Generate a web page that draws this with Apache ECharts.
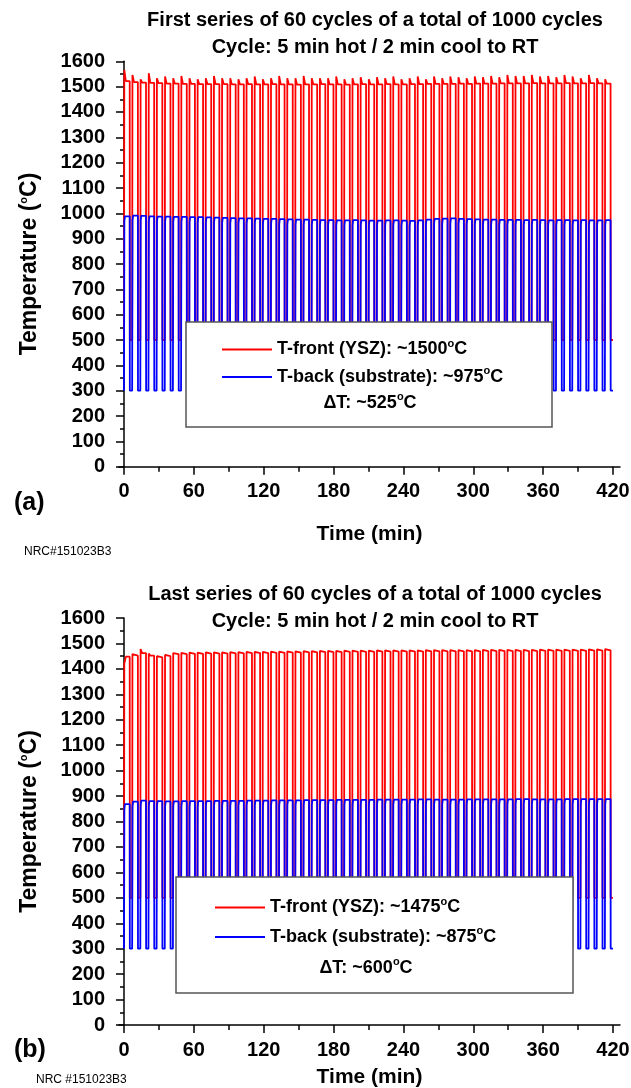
<!DOCTYPE html>
<html>
<head>
<meta charset="utf-8">
<script src="https://cdn.jsdelivr.net/npm/echarts@6/dist/echarts.min.js"></script>
<style>
html, body { margin: 0; padding: 0; background: #fff; }
#chart { width: 631px; height: 1088px; }
</style>
</head>
<body>
<div id="chart"></div>
<script>
// cycle: 5 min hot / 2 min cool, 60 cycles per series
const cycleLen = 7;
const hotLen = 5;
const frontFloor = 500;   // pyrometer floor
const backFloor = 300;

const xTicks = [0, 60, 120, 180, 240, 300, 360, 420];
const xMinorTicks = [30, 90, 150, 210, 270, 330, 390];

// (a) first 60 cycles - peak at start of each hot period, then hot plateau
const frontSpikeA = [1566,1546,1529,1553,1533,1540,1533,1542,1533,1529,1533,1542,1533,1533,1529,1533,1540,1529,1533,1542,
                     1533,1533,1542,1533,1533,1533,1540,1529,1533,1537,1529,1537,1533,1540,1529,1533,1540,1529,1540,1533,
                     1540,1537,1533,1540,1537,1542,1537,1546,1542,1542,1546,1540,1542,1537,1546,1540,1533,1546,1533,1529];
const frontHotA = [1522,1518,1516,1515,1514,1512,1512,1511,1511,1510,1510,1510,1510,1509,1509,1510,1509,1509,1510,1509,
                   1509,1508,1509,1509,1510,1509,1509,1508,1509,1510,1509,1509,1510,1509,1509,1510,1510,1511,1511,1511,
                   1511,1512,1511,1512,1512,1512,1513,1513,1513,1513,1514,1513,1513,1513,1514,1513,1513,1514,1513,1512];
const backHotA = [988,991,990,988,987,987,986,986,985,985,984,983,982,981,980,980,979,978,978,977,
                  976,975,975,974,973,973,972,972,973,972,971,971,972,972,971,970,972,975,978,979,
                  980,978,977,976,975,975,974,974,974,973,974,973,972,973,973,972,973,972,972,973];

// (b) last 60 cycles
const frontSpikeB = [1420,1458,1478,1460,1450,1455,1462,1463,1464,1464,1465,1465,1465,1466,1466,1467,1467,1467,1468,1468,
                     1469,1469,1470,1470,1471,1471,1471,1472,1472,1472,1472,1473,1473,1473,1473,1473,1473,1474,1474,1474,
                     1474,1474,1474,1474,1475,1475,1475,1475,1475,1475,1475,1476,1476,1476,1476,1476,1476,1477,1477,1478];
const frontHotB = [1448,1452,1462,1452,1445,1450,1458,1458,1459,1459,1460,1460,1460,1461,1461,1462,1462,1462,1463,1463,
                   1464,1464,1465,1465,1466,1466,1466,1467,1467,1467,1467,1468,1468,1468,1468,1468,1468,1469,1469,1469,
                   1469,1469,1469,1469,1470,1470,1470,1470,1470,1470,1470,1471,1471,1471,1471,1471,1471,1472,1472,1473];
const backHotB = [868,878,882,880,880,879,879,880,880,880,880,881,881,881,881,882,882,882,883,883,
                  883,883,884,884,884,884,885,885,885,885,885,886,886,886,886,886,887,887,886,886,
                  886,886,887,887,887,887,887,887,888,888,887,887,887,887,888,888,888,888,888,888];

const frontNameA = 'T-front (YSZ): ~1500°C';
const backNameA = 'T-back (substrate): ~975°C';
const deltaA = '\u0394T: ~525°C';
const frontNameB = 'T-front (YSZ): ~1475°C';
const backNameB = 'T-back (substrate): ~875°C';
const deltaB = '\u0394T: ~600°C';

const FONT = 'Liberation Sans, Arial, sans-serif';

function frontTrace(spike, hot) {
    const pts = [];
    for (let i = 0; i < hot.length; i++) {
        const t = i * cycleLen;
        pts.push([t, frontFloor], [t + 0.25, spike[i]], [t + 1.6, hot[i]],
                 [t + hotLen - 0.1, hot[i]], [t + hotLen, frontFloor], [t + cycleLen, frontFloor]);
    }
    return pts;
}

function backTrace(hot) {
    const pts = [];
    for (let i = 0; i < hot.length; i++) {
        const t = i * cycleLen;
        pts.push([t, backFloor], [t + 0.3, hot[i] - 20], [t + 0.8, hot[i]],
                 [t + hotLen - 0.1, hot[i]], [t + hotLen, backFloor], [t + cycleLen, backFloor]);
    }
    return pts;
}

const sup = (s) => s.replace('°', '{s|o}');
const richSup = {
    s: { fontSize: 11, fontWeight: 'bold', fontFamily: FONT, padding: [0, 0, 12, 0] }
};

function xAxes(grid, nameGap) {
    return [
        {
            gridIndex: grid, type: 'value', min: -4.3, max: 426, position: 'bottom',
            axisLine: { lineStyle: { color: '#000', width: 1.5 } },
            axisTick: { customValues: xTicks, length: 8, lineStyle: { color: '#000', width: 1.5 } },
            axisLabel: { customValues: xTicks, color: '#000', fontSize: 20, fontWeight: 'bold', fontFamily: FONT, margin: 15 },
            splitLine: { show: false },
            name: 'Time (min)', nameLocation: 'middle', nameGap: nameGap,
            nameTextStyle: { color: '#000', fontSize: 21, fontWeight: 'bold', fontFamily: FONT }
        },
        {
            gridIndex: grid, type: 'value', min: -4.3, max: 426, position: 'bottom',
            axisLine: { show: false },
            axisTick: { customValues: xMinorTicks, length: 5, lineStyle: { color: '#000', width: 1.5 } },
            axisLabel: { show: false },
            splitLine: { show: false }
        }
    ];
}

function yAxis(grid) {
    return {
        gridIndex: grid, type: 'value', min: 0, max: 1600, interval: 100,
        axisLine: { show: true, lineStyle: { color: '#000', width: 1.5 } },
        axisTick: { show: true, length: 8, lineStyle: { color: '#000', width: 1.5 } },
        minorTick: { show: true, splitNumber: 2, length: 4, lineStyle: { color: '#000', width: 1.5 } },
        axisLabel: { color: '#000', fontSize: 20, fontWeight: 'bold', fontFamily: FONT, margin: 14,
                     formatter: (v) => String(v) },
        splitLine: { show: false },
        name: 'Temperature ({s|o}C)', nameLocation: 'middle', nameGap: 78, nameRotate: 90,
        nameTextStyle: { color: '#000', fontSize: 23, fontWeight: 'bold', fontFamily: FONT, rich: richSup }
    };
}

function legend(names, left, top, gap) {
    return {
        data: names, orient: 'vertical', left: left, top: top, z: 20,
        icon: 'rect', itemWidth: 50, itemHeight: 2, itemGap: gap,
        formatter: sup,
        textStyle: { color: '#000', fontSize: 18, fontWeight: 'bold', fontFamily: FONT, rich: richSup }
    };
}

function line(name, data, color, xi, yi) {
    return {
        name: name, type: 'line', data: data, xAxisIndex: xi, yAxisIndex: yi,
        showSymbol: false, symbol: 'none', lineStyle: { color: color, width: 1.8 },
        itemStyle: { color: color }, animation: false
    };
}

function titleText(text, top) {
    return {
        text: text, left: 370, top: top, textAlign: 'center',
        textStyle: { color: '#000', fontSize: 20, fontWeight: 'bold', fontFamily: FONT, lineHeight: 27 }
    };
}

function box(x, y, w, h) {
    return { type: 'rect', z: 10, shape: { x: x, y: y, width: w, height: h },
             style: { fill: '#fff', stroke: '#555', lineWidth: 1.5 } };
}

function label(text, x, y, size, weight, align) {
    return { type: 'text', z: 12, x: x, y: y,
             style: { text: text, fill: '#000', fontSize: size, fontWeight: weight, fontFamily: FONT,
                      align: align || 'left', verticalAlign: 'middle', rich: richSup } };
}

const chart = echarts.init(document.getElementById('chart'));
chart.setOption({
    animation: false,
    backgroundColor: '#fff',
    title: [
        titleText('First series of 60 cycles of a total of 1000 cycles\nCycle: 5 min hot / 2 min cool to RT', 2),
        titleText('Last series of 60 cycles of a total of 1000 cycles\nCycle: 5 min hot / 2 min cool to RT', 576)
    ],
    grid: [
        { left: 119, right: 11, top: 61.3, height: 405.4, outerBoundsMode: 'none' },
        { left: 119, right: 11, top: 618, height: 407, outerBoundsMode: 'none' }
    ],
    xAxis: [].concat(xAxes(0, 57), xAxes(1, 42)),
    yAxis: [yAxis(0), yAxis(1)],
    legend: [
        legend([frontNameA, backNameA], 217, 333, 7),
        legend([frontNameB, backNameB], 210, 891, 9)
    ],
    series: [
        line(frontNameA, frontTrace(frontSpikeA, frontHotA), '#ff0000', 0, 0),
        line(backNameA, backTrace(backHotA), '#0000ff', 0, 0),
        line(frontNameB, frontTrace(frontSpikeB, frontHotB), '#ff0000', 2, 1),
        line(backNameB, backTrace(backHotB), '#0000ff', 2, 1)
    ],
    graphic: [
        box(186, 322, 366, 105),
        box(176, 877, 397, 116),
        label(sup(deltaA), 370, 403, 18, 'bold', 'center'),
        label(sup(deltaB), 366, 968, 18, 'bold', 'center'),
        label('(a)', 14, 503, 25, 'bold'),
        label('(b)', 14, 1050, 25, 'bold'),
        label('NRC#151023B3', 24, 552, 12, 'normal'),
        label('NRC #151023B3', 36, 1080, 12, 'normal')
    ]
});
</script>
</body>
</html>
